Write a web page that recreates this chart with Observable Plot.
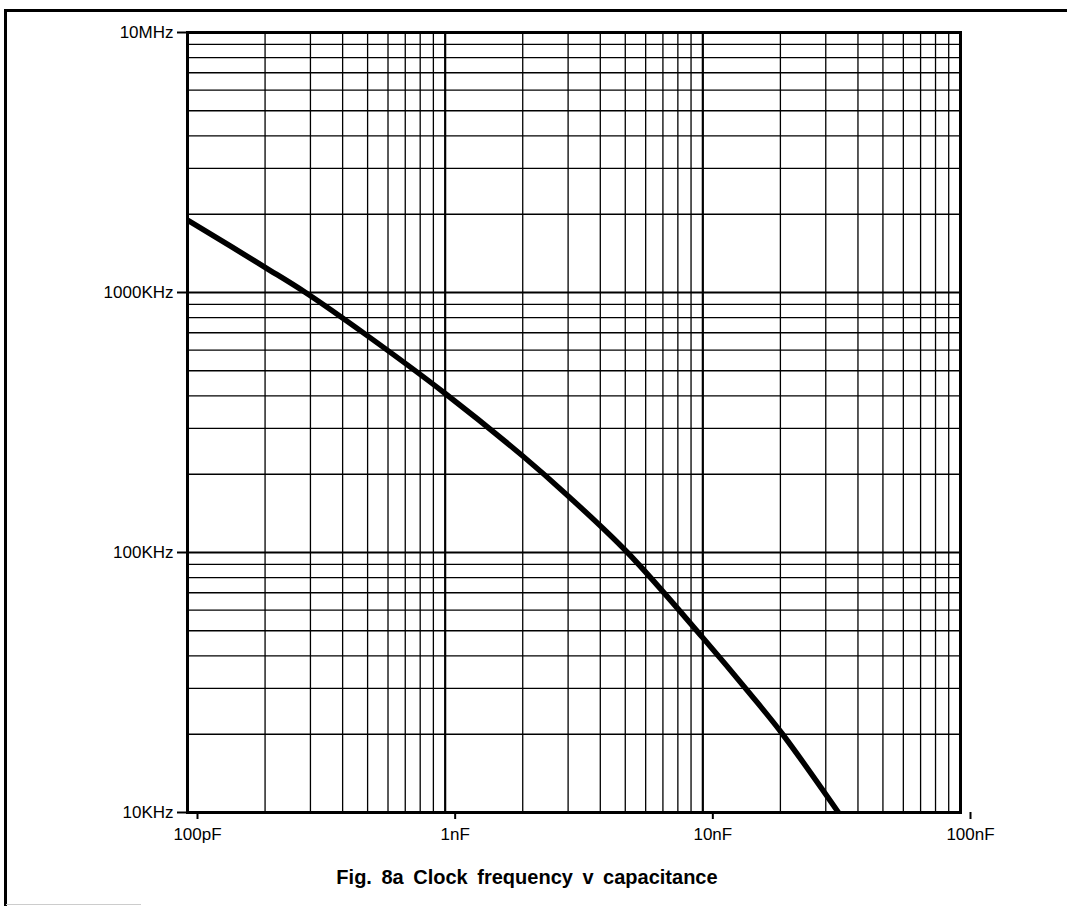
<!DOCTYPE html>
<html><head><meta charset="utf-8">
<script src="https://cdn.jsdelivr.net/npm/d3@7"></script>
<script src="https://cdn.jsdelivr.net/npm/@observablehq/plot@0.6"></script>
<style>
body{margin:0;background:#fff;}
#wrap{position:relative;width:1067px;height:906px;overflow:hidden;background:#fff;}
#chart{position:absolute;left:0;top:0;}
#frameTop{position:absolute;left:4px;top:9px;width:1063px;height:3px;background:#000;}
#frameLeft{position:absolute;left:4px;top:9px;width:3px;height:897px;background:#000;}
#frameBottom{position:absolute;left:6px;top:904px;width:135px;height:1px;background:#ccc;}
#caption{position:absolute;top:866px;left:0;width:1054px;text-align:center;font:bold 20px "Liberation Sans",Arial,sans-serif;color:#000;word-spacing:4px;}
</style></head>
<body>
<div id="wrap">
  <div id="chart"></div>
  <div id="frameTop"></div>
  <div id="frameLeft"></div>
  <div id="frameBottom"></div>
  <div id="caption">Fig. 8a Clock frequency v capacitance</div>
</div>
<script>
// Capacitance in pF, frequency in KHz
const capacitance = [100, 200, 287, 500, 1000, 2000, 3000, 5100, 10000, 15300, 20400, 33600];
const frequency   = [1900, 1250, 1000, 681, 409, 235, 165, 100, 47, 28.5, 20, 10];

const capTicks = [100, 1000, 10000, 100000];
const capLabels = ["100pF", "1nF", "10nF", "100nF"];
const freqTicks = [10, 100, 1000, 10000];
const freqLabels = ["10KHz", "100KHz", "1000KHz", "10MHz"];

const data = capacitance.map((c, i) => ({c, f: frequency[i]}));
const minorX = capTicks.slice(0, -1).flatMap(d => d3.range(2, 10).map(k => d * k));
const minorY = freqTicks.slice(0, -1).flatMap(d => d3.range(2, 10).map(k => d * k));

const chart = Plot.plot({
  width: 1067, height: 906,
  marginLeft: 187, marginRight: 107, marginTop: 32, marginBottom: 94,
  x: {type: "log", domain: [100, 100000]},
  y: {type: "log", domain: [10, 10000]},
  style: {fontFamily: "'Liberation Sans', Arial, sans-serif", fontSize: "17px", color: "#000", background: "#fff"},
  marks: [
    Plot.ruleX(minorX, {stroke: "#000", strokeWidth: 1.3}),
    Plot.ruleY(minorY, {stroke: "#000", strokeWidth: 1.3}),
    Plot.ruleX(capTicks, {stroke: "#000", strokeWidth: 2.2}),
    Plot.ruleY(freqTicks, {stroke: "#000", strokeWidth: 2.2}),
    Plot.frame({stroke: "#000", strokeWidth: 3}),
    Plot.line(data, {x: "c", y: "f", stroke: "#000", strokeWidth: 5.5, curve: "catmull-rom", clip: true}),
    Plot.axisX({ticks: capTicks, tickFormat: d => capLabels[capTicks.indexOf(d)], tickSize: 7, tickPadding: 8, strokeWidth: 2, textAnchor: "middle", dx: 10, label: null, fontSize: 17}),
    Plot.axisY({ticks: freqTicks, tickFormat: d => freqLabels[freqTicks.indexOf(d)], tickSize: 10, tickPadding: 4, strokeWidth: 2, label: null, fontSize: 17})
  ]
});
document.getElementById("chart").appendChild(chart);
</script>
</body></html>
